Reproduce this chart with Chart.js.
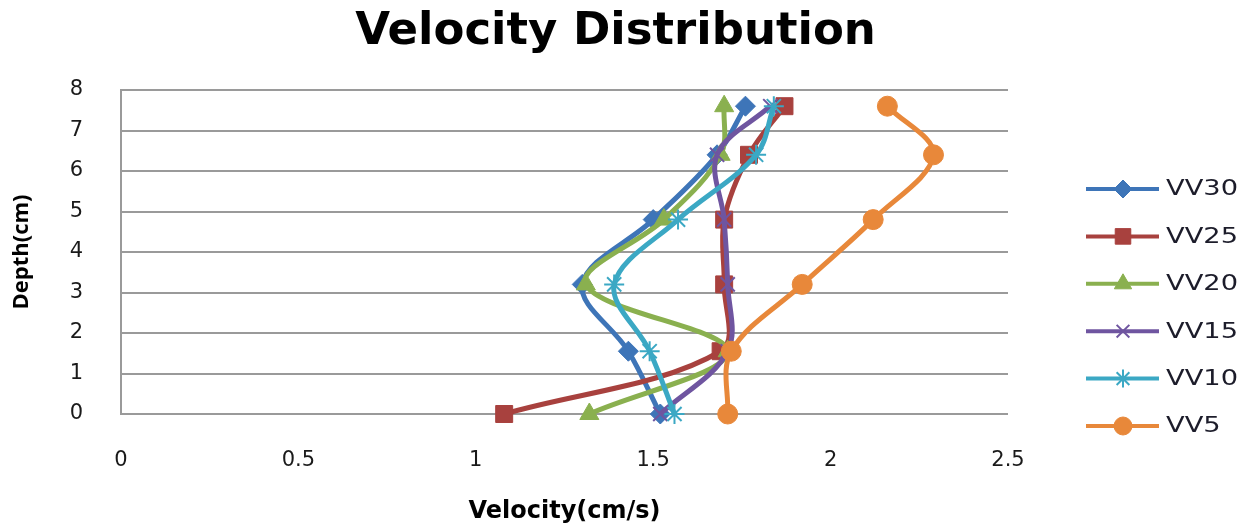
<!DOCTYPE html>
<html>
<head>
<meta charset="utf-8">
<script src="https://cdn.jsdelivr.net/npm/chart.js@4"></script>
<style>
  html, body { margin: 0; padding: 0; background: #fff; }
  #wrap { width: 1257px; height: 527px; position: relative; }
</style>
</head>
<body>
<div id="wrap"><canvas id="c"></canvas></div>
<script>
// Depth of each measuring point (cm)
const depth = [0, 1.55, 3.2, 4.8, 6.4, 7.6];

// Velocity profiles (cm/s) at each depth
const vv30 = [1.52, 1.43, 1.30, 1.50, 1.68, 1.76];
const vv25 = [1.08, 1.69, 1.70, 1.70, 1.77, 1.87];
const vv20 = [1.32, 1.71, 1.31, 1.53, 1.69, 1.70];
const vv15 = [1.52, 1.71, 1.71, 1.70, 1.68, 1.83];
const vv10 = [1.56, 1.49, 1.39, 1.57, 1.79, 1.84];
const vv5  = [1.71, 1.72, 1.92, 2.12, 2.29, 2.16];

const seriesNames = ['VV30', 'VV25', 'VV20', 'VV15', 'VV10', 'VV5'];
const seriesValues = [vv30, vv25, vv20, vv15, vv10, vv5];

// Axis tick labels
const xTicks = [0, 0.5, 1, 1.5, 2, 2.5];
const yTicks = [0, 1, 2, 3, 4, 5, 6, 7, 8];

const styles = [
  { color: '#3e75b8', point: 'rectRot',  radius: 10 },
  { color: '#a8413e', point: 'rect',     radius: 12 },
  { color: '#8ab04f', point: 'triangle', radius: 11 },
  { color: '#6f55a0', point: 'crossRot', radius: 10 },
  { color: '#3ba8c4', point: 'star',     radius: 10 },
  { color: '#e8883a', point: 'circle',   radius: 10 }
];

const datasets = seriesNames.map((name, i) => {
  const s = styles[i];
  const open = s.point === 'crossRot' || s.point === 'star';
  return {
    label: name,
    data: depth.map((d, k) => ({ x: seriesValues[i][k], y: d })),
    showLine: true,
    borderColor: s.color,
    backgroundColor: s.color,
    borderWidth: 5,
    tension: 0.35,
    pointStyle: s.point,
    pointRadius: s.radius,
    pointHoverRadius: s.radius,
    pointBorderWidth: open ? 2 : 1,
    pointBorderColor: s.color,
    pointBackgroundColor: s.color,
    order: seriesNames.length - 1 - i,
    clip: false
  };
});

// Legend drawn as line + marker + name, stacked on the right
const sideLegend = {
  id: 'sideLegend',
  afterDraw(chart) {
    const ctx = chart.ctx;
    const x0 = 1086, x1 = 1159, xm = 1123, xt = 1166;
    const top = 189, step = 47.4;
    ctx.save();
    seriesNames.forEach((name, i) => {
      const s = styles[i];
      const y = top + i * step;
      ctx.strokeStyle = s.color;
      ctx.fillStyle = s.color;
      ctx.lineWidth = 4;
      ctx.beginPath();
      ctx.moveTo(x0, y);
      ctx.lineTo(x1, y);
      ctx.stroke();
      const open = s.point === 'crossRot' || s.point === 'star';
      ctx.lineWidth = open ? 2 : 1;
      Chart.helpers.drawPoint(ctx, {
        pointStyle: s.point,
        radius: s.radius - 1,
        rotation: 0,
        borderWidth: open ? 2 : 1
      }, xm, y);
      ctx.save();
      ctx.translate(xt, y);
      ctx.scale(1.3, 1);
      ctx.fillStyle = '#1c1c2a';
      ctx.font = '21px "DejaVu Sans"';
      ctx.textBaseline = 'middle';
      ctx.textAlign = 'left';
      ctx.fillText(name, 0, 1);
      ctx.restore();
    });
    ctx.restore();
  }
};

new Chart(document.getElementById('c'), {
  type: 'scatter',
  data: { datasets },
  plugins: [sideLegend],
  options: {
    responsive: true,
    maintainAspectRatio: false,
    animation: false,
    events: [],
    layout: { padding: { left: 0, right: 26, top: 0, bottom: 0 } },
    plugins: {
      legend: { display: false },
      tooltip: { enabled: false },
      title: {
        display: true,
        text: 'Velocity Distribution',
        color: '#000',
        font: { family: 'DejaVu Sans', size: 45, weight: 'bold', lineHeight: 1.2 },
        padding: { top: 5, bottom: 31 },
        align: 'center'
      }
    },
    scales: {
      x: {
        type: 'linear',
        min: 0,
        max: 2.5,
        afterBuildTicks: s => { s.ticks = xTicks.map(v => ({ value: v })); },
        afterFit: s => { s.height = 113; },
        grid: { display: false, drawTicks: false },
        border: { display: false },
        ticks: {
          color: '#1a1a1a',
          font: { family: 'DejaVu Sans', size: 21 },
          padding: 34,
          maxRotation: 0,
          callback: v => String(v)
        },
        title: {
          display: true,
          text: 'Velocity(cm/s)',
          color: '#000',
          font: { family: 'DejaVu Sans', size: 24, weight: 'bold' },
          padding: { top: 0, bottom: 1 }
        }
      },
      y: {
        type: 'linear',
        min: 0,
        max: 8,
        afterBuildTicks: s => { s.ticks = yTicks.map(v => ({ value: v })); },
        afterFit: s => { s.width = 121; },
        grid: { color: '#9a9a9a', lineWidth: 2, drawTicks: false },
        border: { display: true, color: '#9a9a9a', width: 2 },
        ticks: {
          color: '#1a1a1a',
          font: { family: 'DejaVu Sans', size: 21 },
          padding: 38,
          callback: v => String(v)
        },
        title: {
          display: true,
          text: 'Depth(cm)',
          color: '#000',
          font: { family: 'Open Sans', size: 22, weight: 'bold' },
          padding: { top: 9, bottom: 0 }
        }
      },
      // empty column on the right that holds the legend
      legendSpace: {
        type: 'linear',
        position: 'right',
        display: true,
        afterFit: s => { s.width = 223; },
        grid: { display: false, drawTicks: false },
        border: { display: false },
        ticks: { display: false }
      }
    }
  }
});
</script>
</body>
</html>
